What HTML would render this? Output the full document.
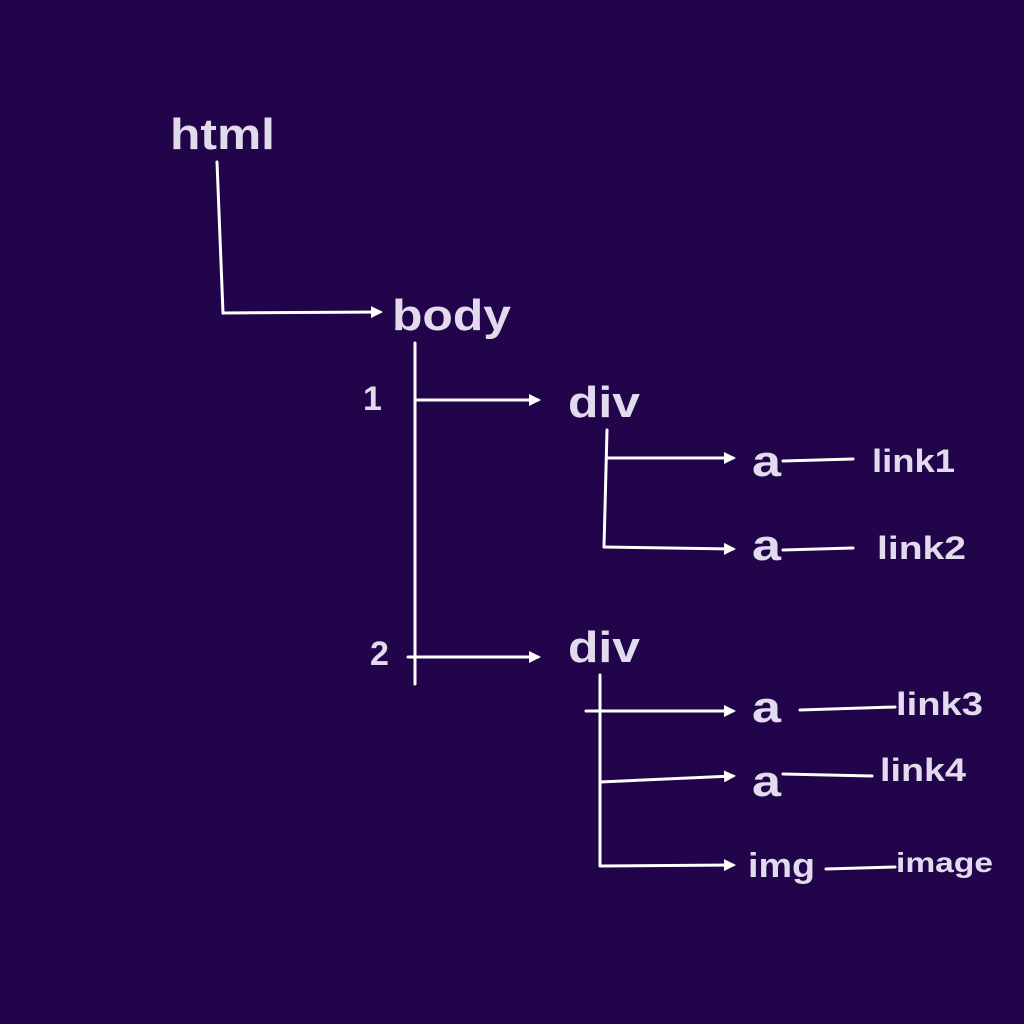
<!DOCTYPE html>
<html><head><meta charset="utf-8"><style>
html,body{margin:0;padding:0;background:#22044a;}
svg{display:block}
text{font-family:"Liberation Sans",sans-serif;font-weight:bold;fill:#e2dbee}
</style></head><body>
<svg width="1024" height="1024" viewBox="0 0 1024 1024">
<defs><marker id="ar" markerWidth="4" markerHeight="4" refX="3" refY="2" orient="auto" markerUnits="strokeWidth"><path d="M0,0 L4,2 L0,4 z" fill="#fff"/></marker></defs>
<rect width="1024" height="1024" fill="#22044a"/>
<g stroke="#fff" stroke-width="3" fill="none" stroke-linecap="round">
<polyline points="217,162 223,313 380,312" marker-end="url(#ar)"/>
<line x1="415" y1="343" x2="415" y2="684"/>
<line x1="415" y1="400" x2="538" y2="400" marker-end="url(#ar)"/>
<line x1="408" y1="657" x2="538" y2="657" marker-end="url(#ar)"/>
<line x1="607" y1="430" x2="604" y2="547"/>
<line x1="607" y1="458" x2="733" y2="458" marker-end="url(#ar)"/>
<line x1="604" y1="547" x2="733" y2="549" marker-end="url(#ar)"/>
<line x1="783" y1="461" x2="853" y2="459"/>
<line x1="783" y1="550" x2="853" y2="548"/>
<line x1="600" y1="675" x2="600" y2="865"/>
<line x1="586" y1="711" x2="733" y2="711" marker-end="url(#ar)"/>
<line x1="600" y1="782" x2="733" y2="776" marker-end="url(#ar)"/>
<line x1="600" y1="866" x2="733" y2="865" marker-end="url(#ar)"/>
<line x1="800" y1="710" x2="895" y2="707"/>
<line x1="783" y1="774" x2="872" y2="776"/>
<line x1="826" y1="869" x2="895" y2="867"/>
</g>
<g lengthAdjust="spacingAndGlyphs">
<text x="170" y="149" font-size="44" textLength="105" lengthAdjust="spacingAndGlyphs">html</text>
<text x="392" y="330" font-size="44" textLength="119" lengthAdjust="spacingAndGlyphs">body</text>
<text x="363" y="410" font-size="34">1</text>
<text x="370" y="665" font-size="34">2</text>
<text x="568" y="417" font-size="44" textLength="72" lengthAdjust="spacingAndGlyphs">div</text>
<text x="568" y="662" font-size="44" textLength="72" lengthAdjust="spacingAndGlyphs">div</text>
<text x="752" y="476" font-size="44" textLength="29" lengthAdjust="spacingAndGlyphs">a</text>
<text x="752" y="560" font-size="44" textLength="29" lengthAdjust="spacingAndGlyphs">a</text>
<text x="752" y="722" font-size="44" textLength="29" lengthAdjust="spacingAndGlyphs">a</text>
<text x="752" y="796" font-size="44" textLength="29" lengthAdjust="spacingAndGlyphs">a</text>
<text x="748" y="877" font-size="34" textLength="67" lengthAdjust="spacingAndGlyphs">img</text>
<text x="872" y="472" font-size="32" textLength="83" lengthAdjust="spacingAndGlyphs">link1</text>
<text x="877" y="559" font-size="32" textLength="89" lengthAdjust="spacingAndGlyphs">link2</text>
<text x="896" y="715" font-size="32" textLength="87" lengthAdjust="spacingAndGlyphs">link3</text>
<text x="880" y="781" font-size="32" textLength="86" lengthAdjust="spacingAndGlyphs">link4</text>
<text x="896" y="872" font-size="28" textLength="97" lengthAdjust="spacingAndGlyphs">image</text>
</g>
</svg>
</body></html>
